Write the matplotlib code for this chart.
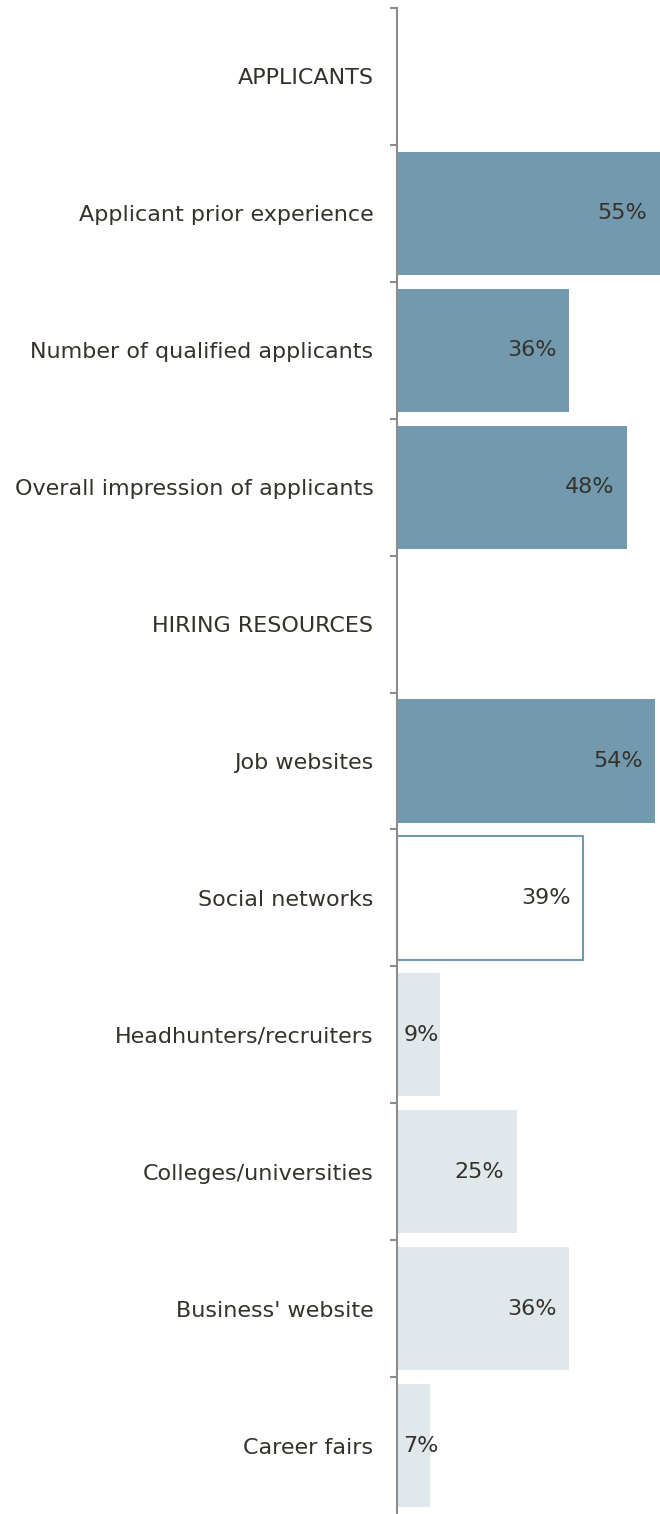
import matplotlib
matplotlib.use('agg')
import matplotlib.pyplot as plt
import numpy as np

plt.rcParams['font.family'] = ['DejaVu Sans']

# rows top to bottom; section headers have no value
categories = ['APPLICANTS', 'Applicant prior experience', 'Number of qualified applicants',
              'Overall impression of applicants', 'HIRING RESOURCES', 'Job websites',
              'Social networks', 'Headhunters/recruiters', 'Colleges/universities',
              "Business' website", 'Career fairs']
values = [None, 55, 36, 48, None, 54, 39, 9, 25, 36, 7]
styles = [None, 'dark', 'dark', 'dark', None, 'dark', 'outline', 'light', 'light', 'light', 'light']

DARK = '#7399ae'
LIGHT = '#e1e8ec'
TEXT = '#35322c'
SPINE = '#8c8c8c'

fig = plt.figure(figsize=(6.6, 15.14), dpi=100)
ax = fig.add_axes([397 / 660, 0, 1 - 397 / 660, 1 - 8 / 1514])

y = np.arange(len(categories))
for yi, v, s in zip(y, values, styles):
    if v is None:
        continue
    if s == 'dark':
        ax.barh(yi, v, height=0.9, color=DARK, edgecolor='none')
    elif s == 'outline':
        ax.barh(yi, v, height=0.9, color='white', edgecolor=DARK, linewidth=1.5)
    else:
        ax.barh(yi, v, height=0.9, color=LIGHT, edgecolor='none')
    lbl = '%d%%' % v
    # short bars get their label just right of the axis
    if v >= 15:
        ax.annotate(lbl, (v, yi), xytext=(-9, 0), textcoords='offset points',
                    ha='right', va='center', fontsize=16, color=TEXT)
    else:
        ax.annotate(lbl, (0, yi), xytext=(4.5, 0), textcoords='offset points',
                    ha='left', va='center', fontsize=16, color=TEXT)

ax.set_xlim(0, 55)
ax.set_ylim(len(categories) - 0.5, -0.5)

ax.set_yticks(y)
ax.set_yticklabels(categories, fontsize=16, color=TEXT)
ax.tick_params(axis='y', which='major', length=0, pad=17)
ax.set_yticks(np.arange(len(categories)) - 0.5, minor=True)
ax.tick_params(axis='y', which='minor', length=5, width=1.5, color=SPINE)
ax.set_xticks([])

for side in ['top', 'right', 'bottom']:
    ax.spines[side].set_visible(False)
ax.spines['left'].set_color(SPINE)
ax.spines['left'].set_linewidth(1.5)

fig.savefig('out.png', dpi=100)
